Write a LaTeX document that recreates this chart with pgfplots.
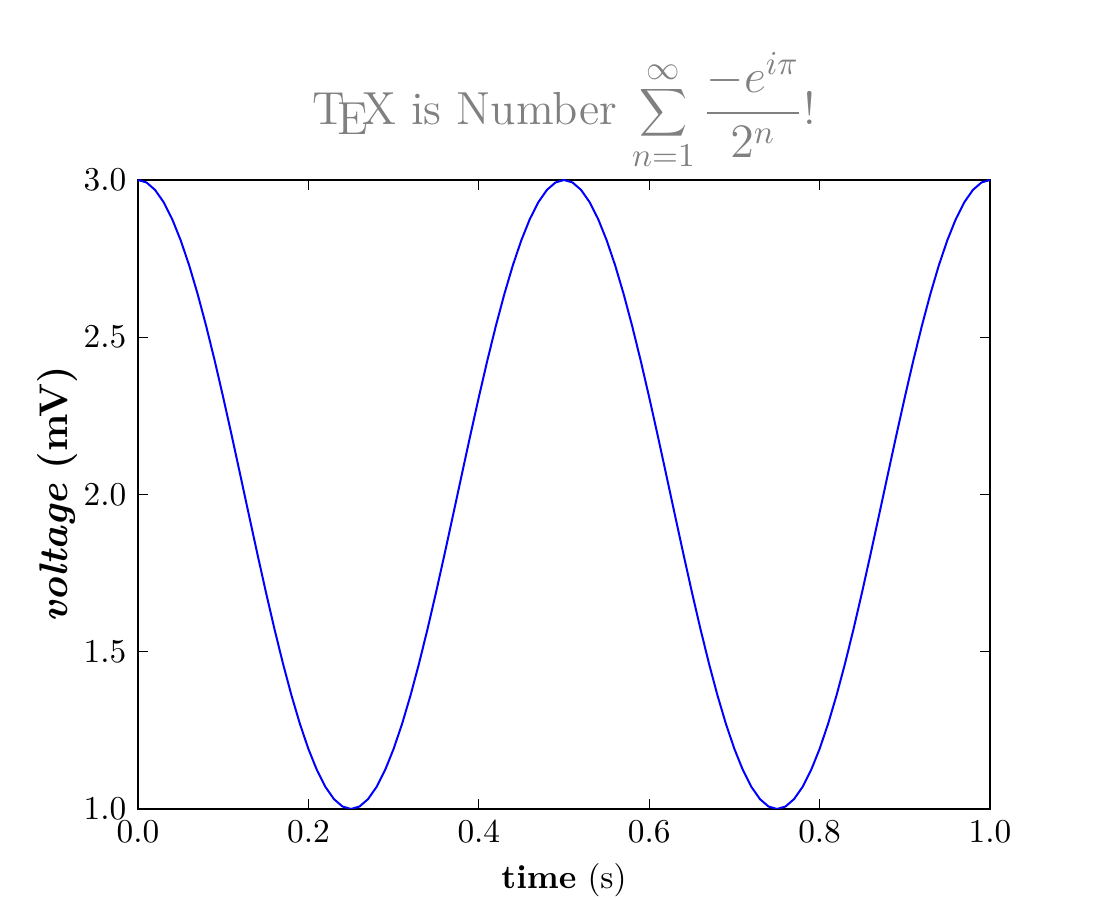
\documentclass[border=0pt]{standalone}
\usepackage{pgfplots}
\pgfplotsset{compat=1.18}
\begin{document}
\begin{tikzpicture}
\useasboundingbox (-41.4pt,-27.3pt) rectangle (288.6pt,242.7pt);
\begin{axis}[
  at={(0,0)}, anchor=south west,
  scale only axis, width=255.6pt, height=188.7pt,
  xmin=0, xmax=1, ymin=1, ymax=3,
  xtick={0,0.2,0.4,0.6,0.8,1.0},
  ytick={1.0,1.5,2.0,2.5,3.0},
  xticklabel style={/pgf/number format/.cd,fixed,fixed zerofill,precision=1},
  yticklabel style={/pgf/number format/.cd,fixed,fixed zerofill,precision=1},
  tick align=inside,
  major tick length=3pt,
  tick style={black, line width=0.4pt},
  axis line style={line width=0.75pt},
  every tick label/.append style={font=\normalsize},
  xlabel={\textbf{time} (s)},
  ylabel={\bfseries\textit{voltage} (mV)},
  ylabel style={font=\large, yshift=-5pt},
  xlabel style={font=\normalsize, yshift=0.6pt},
  title={\TeX\ is Number $\displaystyle\sum_{n=1}^\infty\frac{-e^{i\pi}}{2^n}$!},
  title style={text=gray, font=\fontsize{13.9}{16}\selectfont, yshift=-6.5pt},
]
\addplot[blue, line width=0.6pt] table {
x y
0.00 3.0000
0.01 2.9921
0.02 2.9686
0.03 2.9298
0.04 2.8763
0.05 2.8090
0.06 2.7290
0.07 2.6374
0.08 2.5358
0.09 2.4258
0.10 2.3090
0.11 2.1874
0.12 2.0628
0.13 1.9372
0.14 1.8126
0.15 1.6910
0.16 1.5742
0.17 1.4642
0.18 1.3626
0.19 1.2710
0.20 1.1910
0.21 1.1237
0.22 1.0702
0.23 1.0314
0.24 1.0079
0.25 1.0000
0.26 1.0079
0.27 1.0314
0.28 1.0702
0.29 1.1237
0.30 1.1910
0.31 1.2710
0.32 1.3626
0.33 1.4642
0.34 1.5742
0.35 1.6910
0.36 1.8126
0.37 1.9372
0.38 2.0628
0.39 2.1874
0.40 2.3090
0.41 2.4258
0.42 2.5358
0.43 2.6374
0.44 2.7290
0.45 2.8090
0.46 2.8763
0.47 2.9298
0.48 2.9686
0.49 2.9921
0.50 3.0000
0.51 2.9921
0.52 2.9686
0.53 2.9298
0.54 2.8763
0.55 2.8090
0.56 2.7290
0.57 2.6374
0.58 2.5358
0.59 2.4258
0.60 2.3090
0.61 2.1874
0.62 2.0628
0.63 1.9372
0.64 1.8126
0.65 1.6910
0.66 1.5742
0.67 1.4642
0.68 1.3626
0.69 1.2710
0.70 1.1910
0.71 1.1237
0.72 1.0702
0.73 1.0314
0.74 1.0079
0.75 1.0000
0.76 1.0079
0.77 1.0314
0.78 1.0702
0.79 1.1237
0.80 1.1910
0.81 1.2710
0.82 1.3626
0.83 1.4642
0.84 1.5742
0.85 1.6910
0.86 1.8126
0.87 1.9372
0.88 2.0628
0.89 2.1874
0.90 2.3090
0.91 2.4258
0.92 2.5358
0.93 2.6374
0.94 2.7290
0.95 2.8090
0.96 2.8763
0.97 2.9298
0.98 2.9686
0.99 2.9921
1.00 3.0000
};
\end{axis}
\end{tikzpicture}
\end{document}
